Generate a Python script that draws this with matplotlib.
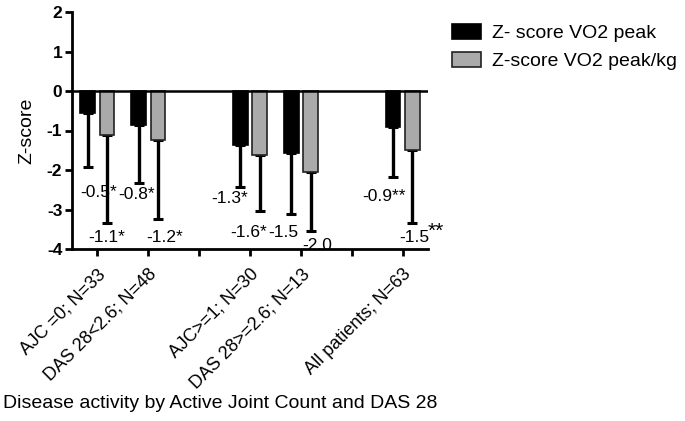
import matplotlib
matplotlib.use("Agg")
import matplotlib.pyplot as plt
import numpy as np

plt.rcParams['font.family'] = ['Liberation Sans', 'DejaVu Sans']

categories = ["AJC =0; N=33", "DAS 28<2.6; N=48", "", "AJC>=1; N=30", "DAS 28>=2.6; N=13", "", "All patients; N=63"]
cat_pos = [1, 2, 4, 5, 7]
vo2 = [-0.56, -0.86, -1.36, -1.56, -0.90]
vo2_sd = [1.37, 1.48, 1.06, 1.56, 1.28]
vo2kg = [-1.11, -1.24, -1.62, -2.04, -1.49]
vo2kg_sd = [2.22, 2.01, 1.42, 1.50, 1.84]

ann_text = ["-0.5*", "-1.1*", "-0.8*", "-1.2*", "-1.3*", "-1.6*", "-1.5", "-2.0", "-0.9**", "-1.5"]
ann_x = [1.03, 1.18, 1.77, 2.32, 3.60, 3.97, 4.65, 5.33, 6.63, 7.23]
ann_y = [-2.58, -3.72, -2.63, -3.72, -2.73, -3.57, -3.57, -3.90, -2.66, -3.70]

fig = plt.figure(figsize=(6.85, 4.21), dpi=100)
ax = fig.add_axes([72/685, 1 - 249/421, (428-72)/685, (249-12)/421])

pos = np.array(cat_pos, dtype=float)
w = 0.29
off = 0.19
ax.bar(pos - off, vo2, width=w, color='black', edgecolor='black', linewidth=1.2,
       label='Z- score VO2 peak', zorder=2)
ax.bar(pos + off, vo2kg, width=w, color='#aaaaaa', edgecolor='#222222', linewidth=1.2,
       label='Z-score VO2 peak/kg', zorder=2)
ax.errorbar(pos - off, vo2, yerr=[vo2_sd, [0]*len(vo2)], fmt='none', ecolor='black',
            elinewidth=2.4, capsize=3.3, capthick=2.2, zorder=1)
ax.errorbar(pos + off, vo2kg, yerr=[vo2kg_sd, [0]*len(vo2kg)], fmt='none', ecolor='black',
            elinewidth=2.4, capsize=3.3, capthick=2.2, zorder=1)

ax.axhline(0, color='black', lw=1.8, zorder=3)

for t, x, y in zip(ann_text, ann_x, ann_y):
    ax.text(x, y, t, ha='center', va='center', fontsize=12.5, zorder=4)
ax.text(7.50, -3.55, "**", ha='left', va='center', fontsize=15, zorder=4)

ax.set_xlim(0.5, 7.5)
ax.set_ylim(-4, 2)
ax.set_yticks([-4, -3, -2, -1, 0, 1, 2])
ax.set_yticklabels(['-4', '-3', '-2', '-1', '0', '1', '2'], fontweight='bold', fontsize=12.5)
ax.set_xticks(range(1, 8))
ax.set_xticklabels(categories, rotation=45, ha='right', va='top', rotation_mode='anchor', fontsize=13)
for s in ['top', 'right']:
    ax.spines[s].set_visible(False)
for s in ['left', 'bottom']:
    ax.spines[s].set_linewidth(2)
ax.tick_params(axis='both', width=2, length=5, pad=2)
ax.tick_params(axis='x', pad=7)
ax.set_ylabel('Z-score', fontsize=14, labelpad=8)
fig.text(3/685, 1 - 404/421, 'Disease activity by Active Joint Count and DAS 28', fontsize=14,
         ha='left', va='center')

fig.legend(loc='upper left', bbox_to_anchor=(452/685, 1 - 24/421), frameon=False, fontsize=14,
           handlelength=1.5, handleheight=0.8, handletextpad=0.55, labelspacing=0.5,
           borderpad=0, borderaxespad=0)

fig.savefig('out.png', dpi=100)
